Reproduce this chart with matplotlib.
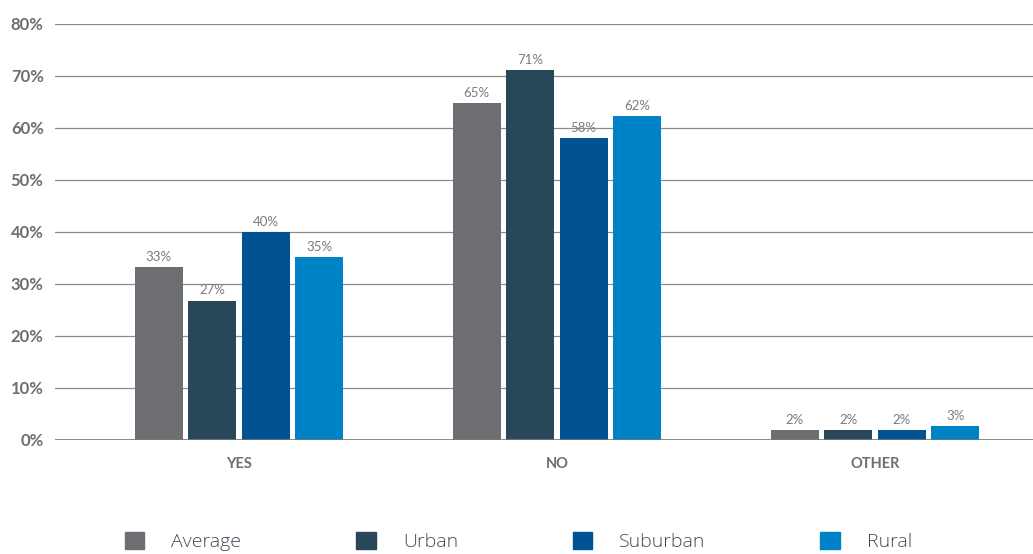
import matplotlib.pyplot as plt
import numpy as np
from matplotlib.patches import Patch

# data
categories = ["YES", "NO", "OTHER"]
series = ["Average", "Urban", "Suburban", "Rural"]
average = [33.3, 64.8, 1.9]
urban = [26.8, 71.2, 1.9]
suburban = [40.0, 58.1, 1.9]
rural = [35.2, 62.3, 2.7]
labels_avg = ["33%", "65%", "2%"]
labels_urb = ["27%", "71%", "2%"]
labels_sub = ["40%", "58%", "2%"]
labels_rur = ["35%", "62%", "3%"]

colors = ["#6d6e71", "#28485a", "#005293", "#0083c6"]
values = [average, urban, suburban, rural]
value_labels = [labels_avg, labels_urb, labels_sub, labels_rur]

plt.rcParams['font.family'] = ['Lato', 'DejaVu Sans']

fig = plt.figure(figsize=(10.33, 5.54), dpi=100)
ax = fig.add_axes([0.053, 0.2058, 0.947, 0.7509])

#Grouped bars
x = np.arange(len(categories))
width = 0.151
step = 0.168
for i, (vals, labs) in enumerate(zip(values, value_labels)):
    pos = x + (i - 1.5) * step
    bars = ax.bar(pos, vals, width, color=colors[i], zorder=3)
    for b, lab in zip(bars, labs):
        ax.text(b.get_x() + b.get_width() / 2, b.get_height() + 0.8, lab,
                ha="center", va="bottom", fontsize=9.5, color="#7a7b7e")

#Axes styling
ax.set_ylim(0, 80)
ax.set_xlim(-0.579, 2.497)
ax.set_yticks(range(0, 81, 10))
ax.set_yticklabels([f"{v}%" for v in range(0, 81, 10)], fontsize=12,
                   color="#6d6e71", fontweight="bold")
ax.set_xticks(x)
ax.set_xticklabels(categories, fontsize=10.5, color="#6d6e71", fontweight="bold")
ax.tick_params(axis="y", length=0, pad=8)
ax.tick_params(axis="x", length=0, pad=12)
ax.yaxis.grid(True, color="#8c8c8c", linewidth=0.9, zorder=0)
ax.axhline(0, color="#777777", linewidth=1.2, zorder=4)
for s in ax.spines.values():
    s.set_visible(False)

#Legend along the bottom
handles = [Patch(color=c, label=s) for c, s in zip(colors, series)]
leg = fig.legend(handles=handles, loc="center", bbox_to_anchor=(0.502, 0.023),
                 ncol=4, frameon=False, handlelength=1.0, handleheight=1.0,
                 handletextpad=1.4, columnspacing=5.9,
                 prop={"family": "Open Sans", "size": 14, "weight": "light"})
for t in leg.get_texts():
    t.set_color("#3d4b58")

fig.savefig("out.png", dpi=100)
